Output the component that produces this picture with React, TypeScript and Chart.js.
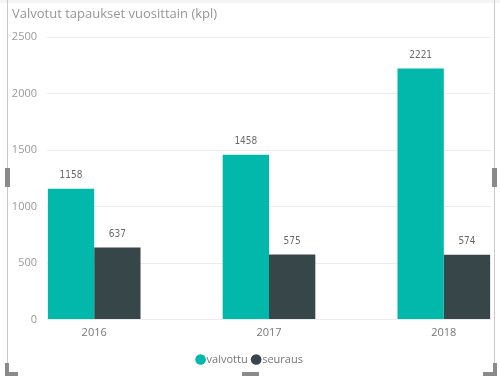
import React, { useEffect, useRef } from "react";
import { Chart, registerables } from "chart.js";

Chart.register(...registerables);

const title = "Valvotut tapaukset vuosittain (kpl)";
const categories = ["2016", "2017", "2018"];
const seriesNames = ["valvottu", "seuraus"];
const valvottu = [1158, 1458, 2221];
const seuraus = [637, 575, 574];
const yTickValues = [0, 500, 1000, 1500, 2000, 2500];

const TEAL = "#01B8AA";
const DARK = "#374649";
const FONT = "'Open Sans', 'DejaVu Sans', sans-serif";

const labelPlugin = {
  id: "valueLabels",
  afterDatasetsDraw(chart: any) {
    const ctx = chart.ctx;
    ctx.save();
    ctx.font = "10px 'DejaVu Sans Condensed', 'DejaVu Sans', sans-serif";
    ctx.fillStyle = "#6a6a6a";
    ctx.textAlign = "center";
    ctx.textBaseline = "middle";
    chart.data.datasets.forEach((ds: any, di: number) => {
      const meta = chart.getDatasetMeta(di);
      meta.data.forEach((el: any, i: number) => {
        const v = ds.data[i].y;
        ctx.fillText(String(v), el.x, el.y - 13);
      });
    });
    ctx.restore();
  },
};

const titlePlugin = {
  id: "pbiTitle",
  afterDraw(chart: any) {
    const ctx = chart.ctx;
    ctx.save();
    ctx.font = "13px " + FONT;
    ctx.fillStyle = "#969696";
    ctx.textAlign = "left";
    ctx.textBaseline = "middle";
    ctx.fillText(title, 12, 14);
    ctx.restore();
  },
};

export default function App() {
  const ref = useRef<HTMLCanvasElement | null>(null);

  useEffect(() => {
    if (!ref.current) return;
    const chart = new Chart(ref.current, {
      type: "bar",
      data: {
        datasets: [
          {
            label: seriesNames[0],
            data: valvottu.map((v, i) => ({ x: i, y: v })),
            backgroundColor: TEAL,
            categoryPercentage: 0.53,
            barPercentage: 1,
          },
          {
            label: seriesNames[1],
            data: seuraus.map((v, i) => ({ x: i, y: v })),
            backgroundColor: DARK,
            categoryPercentage: 0.53,
            barPercentage: 1,
          },
        ],
      },
      options: {
        animation: false,
        responsive: false,
        devicePixelRatio: 1,
        layout: { padding: { top: 37, right: 9, bottom: 2, left: 12 } },
        plugins: {
          legend: {
            position: "bottom",
            labels: {
              usePointStyle: true,
              pointStyle: "circle",
              boxHeight: 7.5,
              boxWidth: 1,
              padding: 8,
              color: "#777",
              font: { family: FONT, size: 11 },
            },
          },
          tooltip: { enabled: false },
          title: { display: false },
        },
        scales: {
          x: {
            type: "linear",
            offset: false,
            min: -0.27,
            max: 2.27,
            grid: { display: false, offset: false },
            border: { display: false },
            afterBuildTicks: (scale: any) => {
              scale.ticks = categories.map((_, i) => ({ value: i }));
            },
            afterFit: (scale: any) => {
              scale.height = 26.5;
            },
            ticks: {
              padding: -1,
              color: "#777",
              font: { family: FONT, size: 11 },
              callback: (v: any) => categories[Math.round(Number(v))] ?? "",
              maxRotation: 0,
            },
          },
          y: {
            min: 0,
            max: 2500,
            afterBuildTicks: (scale: any) => {
              scale.ticks = yTickValues.map((v) => ({ value: v }));
            },
            afterFit: (scale: any) => {
              scale.width = 35;
            },
            grid: { color: "#ececec", drawTicks: false, lineWidth: 1 },
            border: { display: false },
            ticks: {
              padding: 10,
              color: "#9a9a9a",
              font: { family: FONT, size: 11 },
              callback: (v: any) => String(v),
            },
          },
        },
      },
      plugins: [labelPlugin, titlePlugin],
    } as any);
    return () => chart.destroy();
  }, []);

  const box = (s: React.CSSProperties) => <div style={{ position: "absolute", ...s }} />;

  return (
    <div style={{ position: "fixed", left: 0, top: 0, width: 500, height: 377, background: "#fff", overflow: "hidden" }}>
      <canvas ref={ref} width={500} height={377} style={{ position: "absolute", left: 0, top: 0, width: 500, height: 377 }} />
      {box({ left: 0, top: 0, width: 500, height: 3, background: "#f4f4f4" })}
      {box({ left: 7, top: 0, width: 1, height: 372, background: "#c8c8c8" })}
      {box({ left: 494, top: 0, width: 1, height: 372, background: "#c8c8c8" })}
      {box({ left: 5, top: 168, width: 5, height: 19, background: "#8a8a8a" })}
      {box({ left: 492, top: 168, width: 5, height: 19, background: "#8a8a8a" })}
      {box({ left: 5, top: 363, width: 4, height: 13, background: "#8a8a8a" })}
      {box({ left: 5, top: 372, width: 13, height: 4, background: "#8a8a8a" })}
      {box({ left: 493, top: 363, width: 4, height: 13, background: "#8a8a8a" })}
      {box({ left: 483, top: 372, width: 14, height: 4, background: "#8a8a8a" })}
      {box({ left: 242, top: 372, width: 17, height: 4, background: "#8a8a8a" })}
    </div>
  );
}
